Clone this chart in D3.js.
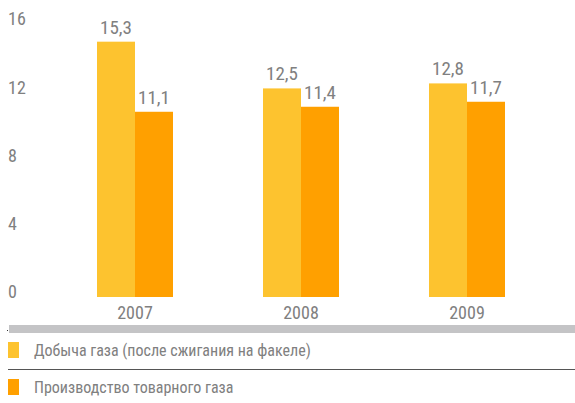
<!DOCTYPE html>
<html>
<head>
<meta charset="utf-8">
<script src="https://cdn.jsdelivr.net/npm/d3@7"></script>
<style>
  body { margin: 0; background: #fff; }
  svg { display: block; }
</style>
</head>
<body>
<div id="chart"></div>
<script>
const years = ["2007", "2008", "2009"];
const seriesNames = [
  "Добыча газа (после сжигания на факеле)",
  "Производство товарного газа"
];
const production = [15.3, 12.5, 12.8];
const commercial = [11.1, 11.4, 11.7];
const tickValues = [0, 4, 8, 12, 16];

const width = 575,
  height = 403;
const colors = ["#fdc32f", "#ffa000"];
const textColor = "#808080";
const font = "'Liberation Sans Narrow', 'Arial Narrow', 'Roboto Condensed', sans-serif";

const svg = d3
  .select("#chart")
  .append("svg")
  .attr("width", width)
  .attr("height", height)
  .attr("font-family", font);

const table = years.map((yr, i) => ({
  year: yr,
  values: [production[i], commercial[i]]
}));

// x: group centres, then a small band scale for the two series
const x = d3.scalePoint(years, [135, 467]);
const xs = d3.scaleBand([0, 1], [-38, 38]).padding(0);

// bars and tick labels sit on slightly different baselines in the original
const y = d3.scaleLinear([0, 16], [297, 30]);
const yTick = d3.scaleLinear([0, 16], [292, 19]);

// y tick labels (no axis line)
svg.append("g")
  .selectAll("text")
  .data(tickValues)
  .join("text")
  .attr("x", 8)
  .attr("y", (d) => yTick(d))
  .attr("dy", "0.35em")
  .attr("fill", textColor)
  .attr("font-size", 18)
  .text((d) => d);

const groups = svg.append("g")
  .selectAll("g")
  .data(table)
  .join("g")
  .attr("transform", (d) => `translate(${x(d.year)},0)`);

groups.selectAll("rect")
  .data((d) => d.values.map((v, i) => ({ v: v, i: i })))
  .join("rect")
  .attr("x", (d) => xs(d.i))
  .attr("width", xs.bandwidth())
  .attr("y", (d) => y(d.v))
  .attr("height", (d) => y(0) - y(d.v))
  .attr("fill", (d) => colors[d.i]);

groups.selectAll("text.val")
  .data((d) => d.values.map((v, i) => ({ v: v, i: i })))
  .join("text")
  .attr("class", "val")
  .attr("x", (d) => xs(d.i) + xs.bandwidth() / 2)
  .attr("y", (d) => y(d.v) - 8)
  .attr("text-anchor", "middle")
  .attr("fill", textColor)
  .attr("font-size", 19)
  .text((d) => d3.format(".1f")(d.v).replace(".", ","));

// year labels
svg.append("g")
  .selectAll("text")
  .data(years)
  .join("text")
  .attr("x", (d) => x(d))
  .attr("y", 319)
  .attr("text-anchor", "middle")
  .attr("fill", textColor)
  .attr("font-size", 18)
  .text((d) => d);

// grey band under the axis
svg.append("rect")
  .attr("x", 9)
  .attr("y", 325)
  .attr("width", width - 9)
  .attr("height", 8)
  .attr("fill", "#c4c4c6");
svg.append("rect")
  .attr("x", 7)
  .attr("y", 330)
  .attr("width", 1)
  .attr("height", 1)
  .attr("fill", "#333");

// legend
const legendY = [342, 379];
const legend = svg.append("g")
  .selectAll("g")
  .data(seriesNames)
  .join("g")
  .attr("transform", (d, i) => `translate(8,${legendY[i]})`);

legend.append("rect")
  .attr("width", 11)
  .attr("height", 16)
  .attr("fill", (d, i) => colors[i]);

legend.append("text")
  .attr("x", 26)
  .attr("y", 14)
  .attr("fill", textColor)
  .attr("font-size", 16)
  .text((d) => d);

svg.append("line")
  .attr("x1", 8)
  .attr("x2", width)
  .attr("y1", 369.5)
  .attr("y2", 369.5)
  .attr("stroke", "#555")
  .attr("stroke-width", 1);
</script>
</body>
</html>
